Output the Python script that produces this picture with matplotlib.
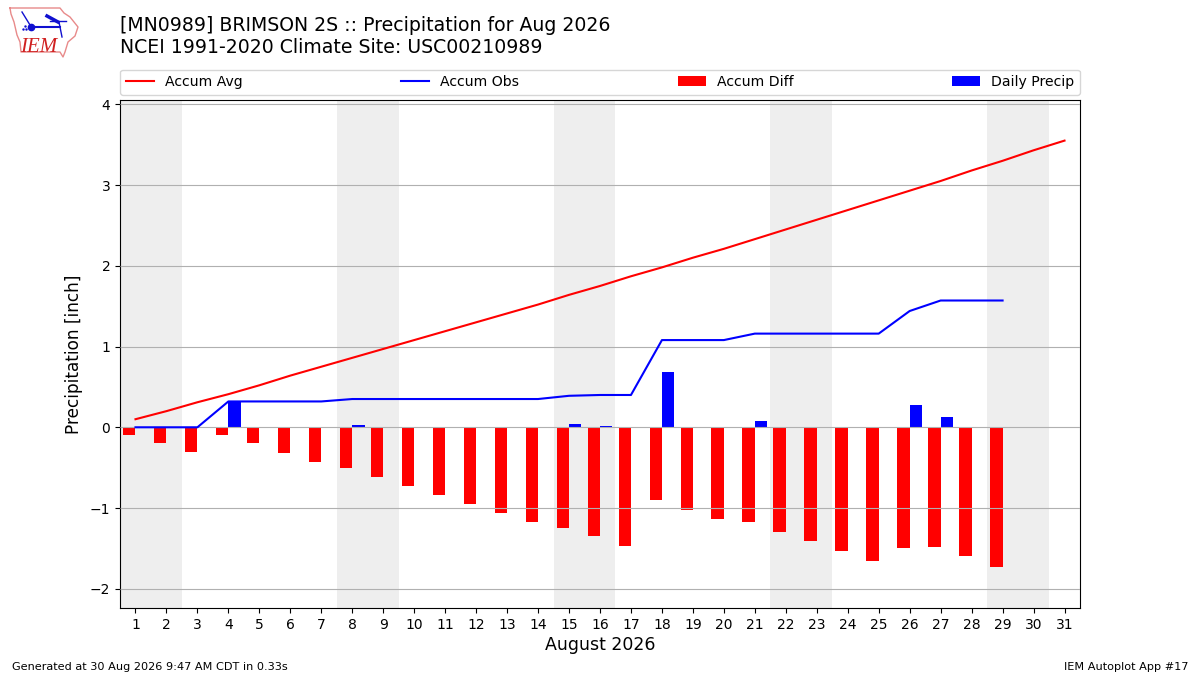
#!/usr/bin/env python
import datetime

import matplotlib
matplotlib.use("Agg")
from matplotlib import pyplot as plt

YEAR = 2026
MONTH = 8

days = list(range(1, 32))
accum_avg = [0.10, 0.20, 0.31, 0.41, 0.52, 0.64, 0.75, 0.86, 0.97, 1.08,
             1.19, 1.30, 1.41, 1.52, 1.64, 1.75, 1.87, 1.98, 2.10, 2.21,
             2.33, 2.45, 2.57, 2.69, 2.81, 2.93, 3.05, 3.18, 3.30, 3.43, 3.55]
obs_days = list(range(1, 30))
accum_obs = [0.00, 0.00, 0.00, 0.32, 0.32, 0.32, 0.32, 0.35, 0.35, 0.35,
             0.35, 0.35, 0.35, 0.35, 0.39, 0.40, 0.40, 1.08, 1.08, 1.08,
             1.16, 1.16, 1.16, 1.16, 1.16, 1.44, 1.57, 1.57, 1.57]
accum_diff = [-0.10, -0.20, -0.31, -0.10, -0.20, -0.32, -0.43, -0.51, -0.62, -0.73,
              -0.84, -0.95, -1.06, -1.17, -1.25, -1.35, -1.47, -0.90, -1.03, -1.14,
              -1.17, -1.30, -1.41, -1.53, -1.66, -1.49, -1.48, -1.60, -1.73]
daily_precip = [0.00, 0.00, 0.00, 0.32, 0.00, 0.00, 0.00, 0.03, 0.00, 0.00,
                0.00, 0.00, 0.00, 0.00, 0.04, 0.01, 0.00, 0.68, 0.00, 0.00,
                0.08, 0.00, 0.00, 0.00, 0.00, 0.27, 0.13, 0.00, 0.00]
y_ticks = [-2, -1, 0, 1, 2, 3, 4]

title = ("[MN0989] BRIMSON 2S :: Precipitation for Aug 2026\n"
         "NCEI 1991-2020 Climate Site: USC00210989")

fig = plt.figure(figsize=(12, 6.75), dpi=100, facecolor="w")
ax = fig.add_axes([0.1, 0.099, 0.8, 0.7525])

# weekends get the grey band
for day in days:
    if datetime.date(YEAR, MONTH, day).weekday() == 5:
        ax.axvspan(day - 0.5, day + 1.5, color="#eeeeee", lw=0, zorder=1)

ax.plot(days, accum_avg, color="r", lw=1.5, label="Accum Avg", zorder=3)
ax.plot(obs_days, accum_obs, color="b", lw=1.5, label="Accum Obs", zorder=3)
ax.bar(obs_days, accum_diff, width=-0.4, align="edge", color="r",
       label="Accum Diff", zorder=2)
ax.bar(obs_days, daily_precip, width=0.4, align="edge", color="b",
       label="Daily Precip", zorder=2)

ax.set_xlim(0.5, 31.5)
ax.set_ylim(-2.24, 4.05)
ax.set_xticks(days)
ax.set_yticks(y_ticks)
ax.tick_params(labelsize=10)
ax.grid(True, axis="y", color="#b0b0b0", lw=0.8, zorder=1.5)
ax.set_axisbelow(False)
ax.set_xlabel("August 2026", fontsize=12.5, labelpad=3)
ax.set_ylabel("Precipitation [inch]", fontsize=12.2, labelpad=5)
ax.legend(loc="lower left", bbox_to_anchor=(0, 1.0105, 1, 0.05), ncol=4,
          mode="expand", borderaxespad=0, fontsize=10.1)

fig.text(0.1, 0.915, title, fontsize=13.6, va="bottom", linespacing=1.2)
fig.text(0.01, 0.0075, "Generated at 30 Aug 2026 9:47 AM CDT in 0.33s", fontsize=8.1)
fig.text(0.99, 0.0075, "IEM Autoplot App #17", fontsize=8.1, ha="right")

# rough copy of the IEM logo, in pixel coordinates
logo = fig.add_axes([0, 0, 1, 1], facecolor="none")
logo.set_xlim(0, 1200)
logo.set_ylim(675, 0)
logo.axis("off")
logo.plot([10, 60, 64, 70, 78, 75, 68, 65, 63, 60, 21, 20, 17, 14, 11, 10],
          [8, 8, 13, 17, 27, 36, 42, 52, 57, 52, 52, 42, 35, 22, 14, 8],
          color="#e88a8a", lw=1)
logo.plot([30, 60], [27, 27], color="#1010d0", lw=1.5)
logo.plot([22, 30], [12, 25], color="#1010d0", lw=1)
logo.plot([50, 66], [21, 21], color="#1010d0", lw=1)
logo.plot([59, 62], [22, 37], color="#1010d0", lw=1)
logo.plot([47, 58], [16, 22], color="#1010d0", lw=2.5)
logo.plot([31], [27], "o", color="#1010d0", ms=4.5)
logo.plot([23, 25, 26], [29, 26, 29], ".", color="#1010d0", ms=1.5)
logo.text(20, 52, "IEM", color="#d02020", fontsize=15, style="italic",
          family="Liberation Serif")

fig.savefig("out.png", dpi=100)
